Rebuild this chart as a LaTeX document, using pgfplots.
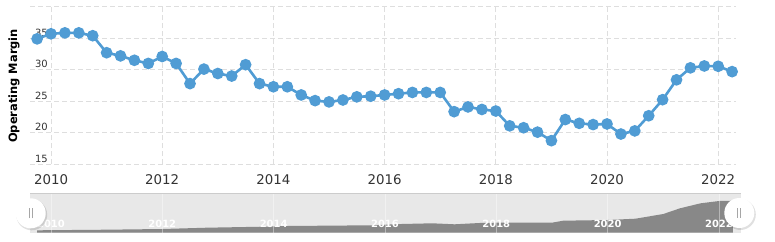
\documentclass[border=0pt]{standalone}
\usepackage{fontspec}
\setmainfont{DejaVu Sans}
\usepackage{pgfplots}
\pgfplotsset{compat=1.18}
\definecolor{linec}{RGB}{80,156,212}
\definecolor{gridc}{RGB}{222,222,222}
\definecolor{tickc}{RGB}{51,51,51}
\definecolor{navbg}{RGB}{232,232,232}
\definecolor{navarea}{RGB}{136,136,136}
\definecolor{navborder}{RGB}{204,204,204}
\begin{document}
\begin{tikzpicture}
\path[use as bounding box] (0,0) rectangle (775bp,242bp);
\begin{axis}[
  at={(30bp,77.7bp)}, anchor=south west, scale only axis,
  width=706bp, height=157.6bp,
  xmin=2009.622, xmax=2022.32, ymin=15, ymax=40,
  xtick={2010,2012,...,2022}, ytick={15,20,...,40},
  yticklabels={15,20,25,30,35,{}},
  grid=major,
  major grid style={draw=gridc, dash pattern=on 5bp off 3bp, line width=0.8bp},
  axis line style={draw=none}, major tick length=0pt,
  /pgf/number format/1000 sep={}, /pgf/number format/assume math mode=true,
  xticklabel style={font=\fontsize{13.4}{15}\selectfont, text=tickc, anchor=base, inner sep=0pt, yshift=-20.7bp},
  yticklabel style={font=\fontsize{10}{12}\selectfont, text=tickc, anchor=south east, inner sep=0pt, xshift=18bp, yshift=1.6bp},
  ylabel={Operating Margin},
  every axis y label/.style={at={(rel axis cs:-0.0227,0.497)}, rotate=90, anchor=center, font=\fontsize{11.5}{13}\selectfont\bfseries, text=black},
  clip=false,
]
\addplot[color=linec, line width=2.6bp, mark=*, mark size=4.5bp, mark options={fill=linec, draw=none}] coordinates {
(2009.75,34.9) (2010.00,35.7) (2010.25,35.85) (2010.50,35.85) (2010.75,35.4)
(2011.00,32.7) (2011.25,32.2) (2011.50,31.5) (2011.75,31.0)
(2012.00,32.1) (2012.25,31.0) (2012.50,27.8) (2012.75,30.1)
(2013.00,29.4) (2013.25,29.0) (2013.50,30.8) (2013.75,27.8)
(2014.00,27.3) (2014.25,27.3) (2014.50,26.0) (2014.75,25.1)
(2015.00,24.9) (2015.25,25.2) (2015.50,25.7) (2015.75,25.8)
(2016.00,26.0) (2016.25,26.2) (2016.50,26.4) (2016.75,26.4)
(2017.00,26.4) (2017.25,23.35) (2017.50,24.1) (2017.75,23.7)
(2018.00,23.45) (2018.25,21.1) (2018.50,20.8) (2018.75,20.1)
(2019.00,18.75) (2019.25,22.1) (2019.50,21.5) (2019.75,21.3)
(2020.00,21.4) (2020.25,19.8) (2020.50,20.3) (2020.75,22.7)
(2021.00,25.25) (2021.25,28.4) (2021.50,30.3) (2021.75,30.6)
(2022.00,30.55) (2022.25,29.7)
};
\end{axis}
\begin{axis}[
  at={(30bp,9.3bp)}, anchor=south west, scale only axis,
  width=710.7bp, height=39.4bp,
  xmin=2009.624, xmax=2022.39, ymin=0, ymax=39.4,
  axis background/.style={fill=navbg},
  axis line style={draw=none}, ytick=\empty,
  xtick={2010,2012,...,2022}, xmajorgrids,
  major grid style={draw=white, opacity=0.4, line width=0.6bp},
  major tick length=0pt, axis on top,
  /pgf/number format/1000 sep={}, /pgf/number format/assume math mode=true,
  xticklabel style={font=\fontsize{10}{12}\selectfont\bfseries, text=white, anchor=base, inner sep=0pt, yshift=5.4bp},
]
\addplot[fill=navarea, draw=none] coordinates {
(2009.75,0) (2009.75,2.4) (2011.0,3.0) (2012.0,3.7) (2012.8,5.0) (2013.8,6.0)
(2014.25,6.7) (2015.75,7.4) (2016.3,8.7) (2016.85,9.4) (2017.25,8.4)
(2017.7,9.7) (2018.0,10.0) (2019.0,10.0) (2019.2,12.0) (2020.0,12.7)
(2020.5,14.0) (2021.0,18.7) (2021.3,24.4) (2021.67,29.4) (2022.0,31.7)
(2022.25,32.0) (2022.25,0)
} -- cycle;
\end{axis}
\draw[navborder, line width=0.8bp] (30bp,48.7bp) -- (740.7bp,48.7bp);
\begin{scope}[shift={(30.7bp,28.7bp)}]
\fill[black, opacity=0.12] (1bp,-1.5bp) circle (15.5bp);
\fill[white] (0,0) circle (15bp);
\draw[gray!70, line width=0.8bp] (-1.5bp,-5bp) -- (-1.5bp,5bp);
\draw[gray!70, line width=0.8bp] (1.5bp,-5bp) -- (1.5bp,5bp);
\end{scope}
\begin{scope}[shift={(739.3bp,29bp)}]
\fill[black, opacity=0.12] (1bp,-1.5bp) circle (15.5bp);
\fill[white] (0,0) circle (15bp);
\draw[gray!70, line width=0.8bp] (-1.5bp,-5bp) -- (-1.5bp,5bp);
\draw[gray!70, line width=0.8bp] (1.5bp,-5bp) -- (1.5bp,5bp);
\end{scope}
\end{tikzpicture}
\end{document}
